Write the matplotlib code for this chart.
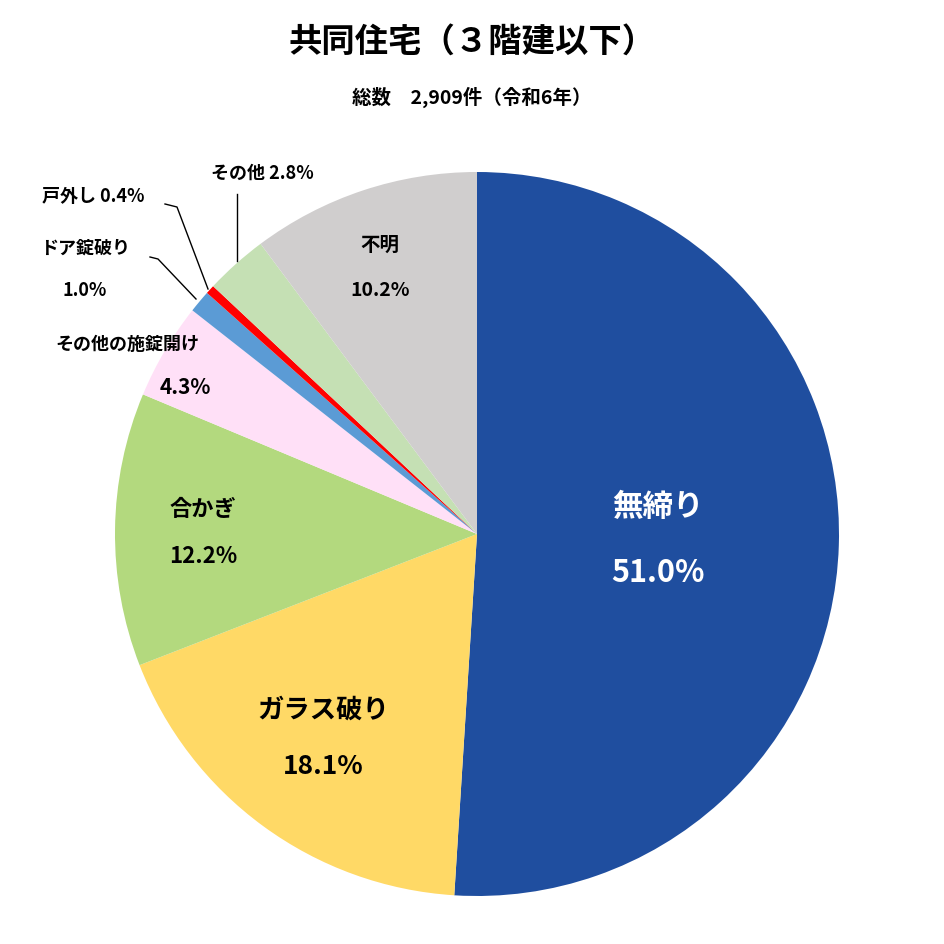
import matplotlib
matplotlib.use("Agg")
import matplotlib.pyplot as plt
from matplotlib.lines import Line2D

plt.rcParams["font.family"] = "Noto Sans CJK JP"

labels = ["無締り", "ガラス破り", "合かぎ", "その他の施錠開け", "ドア錠破り", "戸外し", "その他", "不明"]
values = [51.0, 18.1, 12.2, 4.3, 1.0, 0.4, 2.8, 10.2]
colors = ["#1F4E9F", "#FFD966", "#B3D97E", "#FFE0F7", "#5B9BD5", "#FF0000", "#C5E0B4", "#D0CECE"]

W = 945
fig = plt.figure(figsize=(9.45, 9.45), dpi=100)
cx, cy, r = 477, 535, 362
ax = fig.add_axes([(cx - r) / W, 1 - (cy + r) / W, 2 * r / W, 2 * r / W])
ax.pie(values, colors=colors, startangle=90, counterclock=False,
       wedgeprops=dict(edgecolor="none"))
ax.set_xlim(-1, 1)
ax.set_ylim(-1, 1)
ax.set_aspect("equal")

def T(x, y, s, size, color="black"):
    fig.text(x / W, 1 - y / W, s, ha="center", va="center", fontsize=size,
             fontweight="bold", color=color)

T(472, 42, "共同住宅（３階建以下）", 24)
T(472, 97, "総数　2,909件（令和6年）", 14)
T(658, 507, "無締り", 22, "white")
T(658, 573, "51.0%", 22, "white")
T(323, 710, "ガラス破り", 19)
T(323, 767, "18.1%", 19)
T(203, 510, "合かぎ", 16)
T(203, 557, "12.2%", 16)
T(127, 344, "その他の施錠開け", 13)
T(185, 388, "4.3%", 15)
T(85, 248, "ドア錠破り", 13)
T(85, 290, "1.0%", 13)
T(93, 196, "戸外し 0.4%", 13)
T(262, 173, "その他 2.8%", 13)
T(380, 245, "不明", 14)
T(380, 290, "10.2%", 14)

def L(pts):
    xs = [p[0] / W for p in pts]
    ys = [1 - p[1] / W for p in pts]
    fig.add_artist(Line2D(xs, ys, color="black", lw=1, transform=fig.transFigure))

L([(165, 205), (177, 208), (208, 290)])
L([(150, 258), (158, 260), (196, 300)])
L([(237, 195), (237, 262)])

fig.savefig("out.png", dpi=100)
